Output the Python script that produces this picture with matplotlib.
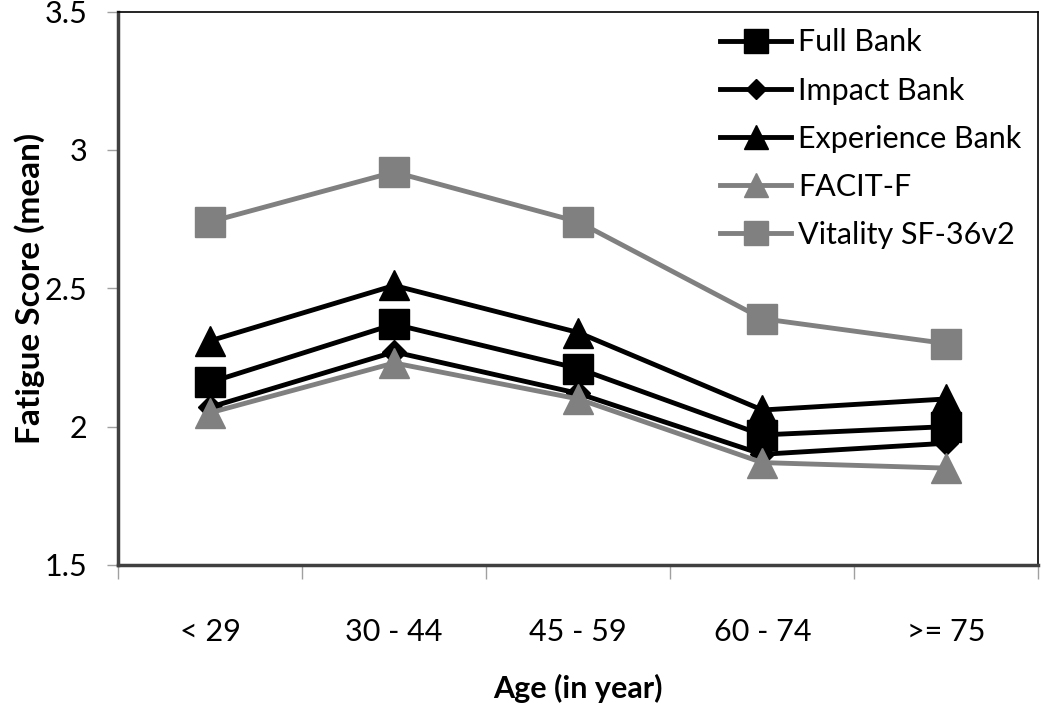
import matplotlib
matplotlib.use('Agg')
import matplotlib.pyplot as plt
import numpy as np

plt.rcParams['font.family'] = ['Lato', 'DejaVu Sans']

# age groups and mean fatigue scores
ages = ['< 29', '30 - 44', '45 - 59', '60 - 74', '>= 75']
full_bank = [2.16, 2.37, 2.21, 1.97, 2.00]
impact_bank = [2.07, 2.27, 2.12, 1.90, 1.94]
experience_bank = [2.31, 2.51, 2.34, 2.06, 2.10]
facit_f = [2.05, 2.23, 2.10, 1.87, 1.85]
vitality = [2.74, 2.92, 2.74, 2.39, 2.30]

x = np.arange(len(ages))

fig = plt.figure(figsize=(10.5, 7.22), dpi=100)
ax = fig.add_axes([0.1124, 0.2175, 0.8766, 0.7665])

lw = 3.5
ax.plot(x, full_bank, color='black', lw=lw, marker='s', ms=21, label='Full Bank')
ax.plot(x, impact_bank, color='black', lw=lw, marker='D', ms=12, label='Impact Bank')
ax.plot(x, experience_bank, color='black', lw=lw, marker='^', ms=21, label='Experience Bank')
ax.plot(x, facit_f, color='#808080', lw=lw, marker='^', ms=21, label='FACIT-F')
ax.plot(x, vitality, color='#808080', lw=lw, marker='s', ms=21, label='Vitality SF-36v2')

ax.set_ylim(1.5, 3.5)
ax.set_yticks([1.5, 2, 2.5, 3, 3.5])
ax.set_yticklabels(['1.5', '2', '2.5', '3', '3.5'])
ax.set_xlim(-0.5, len(ages) - 0.5)

# ticks at the category boundaries, labels at the centres
ax.set_xticks(np.arange(-0.5, len(ages)), minor=False)
ax.set_xticklabels([])
ax.set_xticks(x, minor=True)
ax.set_xticklabels(ages, minor=True)
ax.tick_params(axis='x', which='major', direction='out', length=10, width=1, color='#a0a0a0')
ax.tick_params(axis='x', which='minor', length=0, pad=38, labelsize=22)
ax.tick_params(axis='y', direction='out', length=8, width=1, color='#a0a0a0', pad=14, labelsize=22)

for s in ['left', 'bottom']:
    ax.spines[s].set_linewidth(2.5)
    ax.spines[s].set_color('#404040')
for s in ['top', 'right']:
    ax.spines[s].set_linewidth(1.2)
    ax.spines[s].set_color('black')

ax.set_ylabel('Fatigue Score (mean)', fontsize=24, fontweight='bold', labelpad=0)
ax.set_xlabel('Age (in year)', fontsize=22, fontweight='bold', labelpad=20)

leg = ax.legend(loc='upper right', frameon=False, fontsize=22, handlelength=2.3,
                handletextpad=0.25, labelspacing=0.66, markerscale=0.85,
                borderaxespad=0.15)

fig.savefig('out.png', dpi=100)
